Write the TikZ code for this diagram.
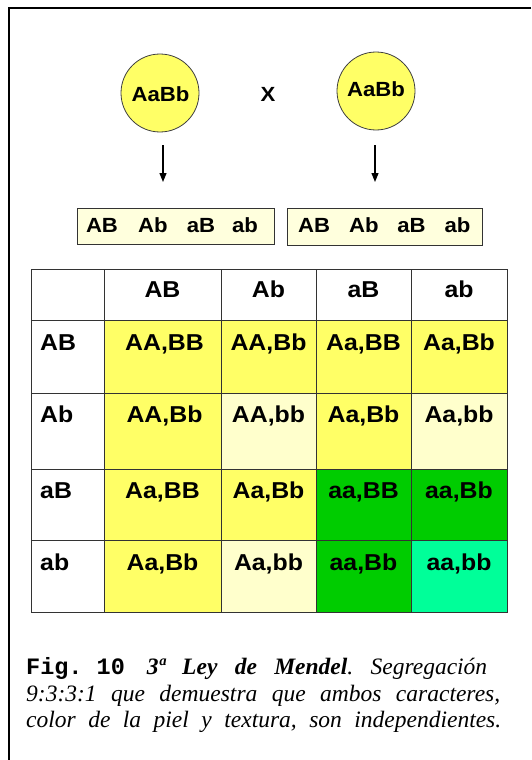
\documentclass[tikz,border=0pt]{standalone}
\usepackage{fontspec}
\setmainfont{Liberation Serif}
\newfontfamily\arb[FakeStretch=1.08]{Liberation Sans}
\newfontfamily\cour{Liberation Mono}
\usetikzlibrary{arrows.meta}
\definecolor{cyel}{HTML}{FFFF66}
\definecolor{clight}{HTML}{FFFFCC}
\definecolor{cgreen}{HTML}{00CC00}
\definecolor{caqua}{HTML}{00FF99}
\definecolor{cbox}{HTML}{FFFFDD}
\frenchspacing
\tikzset{
  parent/.style={circle, draw=black!75, line width=0.8pt, fill=cyel, minimum size=78pt, inner sep=0pt},
  gbox/.style={rectangle, draw=black!80, line width=0.9pt, fill=cbox, anchor=north west, inner sep=0pt},
  cellbox/.style={rectangle, draw=black!80, line width=0.8pt, anchor=north west, inner sep=0pt},
  ptxt/.style={anchor=base, inner sep=0pt, font=\arb\bfseries\fontsize{20.5}{24}\selectfont},
  gtxt/.style={anchor=base, inner sep=0pt, font=\arb\bfseries\fontsize{20.5}{24}\selectfont},
  ttxt/.style={anchor=base, inner sep=0pt, font=\arb\bfseries\fontsize{23}{27}\selectfont},
  ltxt/.style={anchor=base west, inner sep=0pt, font=\arb\bfseries\fontsize{23}{27}\selectfont},
  captxt/.style={anchor=base west, inner sep=0pt, font=\fontsize{23.5}{28}\selectfont},
  arr/.style={line width=1.2pt, -{Triangle[length=9pt,width=7pt]}}
}
\newcommand{\cellat}[3]{% row, col, color
  \pgfmathsetmacro{\xa}{\xs[#2]}\pgfmathsetmacro{\xb}{\xs[#2+1]}%
  \pgfmathsetmacro{\ya}{\ys[#1]}\pgfmathsetmacro{\yb}{\ys[#1+1]}%
  \node[cellbox, fill=#3, minimum width=\xb-\xa, minimum height=\yb-\ya] (c#1#2) at (\xa,\ya) {};}
\begin{document}
\begin{tikzpicture}[x=1pt,y=-1pt]
\useasboundingbox (0,0) rectangle (531,760);
\fill[white] (0,0) rectangle (531,760);
\draw[line width=1.6pt] (531,8) -- (9,8) -- (9,760);

% parents
\node[parent] (p1) at (160,93) {};
\node[parent] (p2) at (376,91) {};
\node[ptxt] (p1t) at (160.5,101) {AaBb};
\node[ptxt] (p2t) at (376,96) {AaBb};
\node[ptxt] (cross) at (268,101) {X};

% arrows
\coordinate (a1s) at (163,145);
\coordinate (a1e) at (163,182);
\coordinate (a2s) at (375,145);
\coordinate (a2e) at (375,182);
\draw[arr] (a1s) -- (a1e);
\draw[arr] (a2s) -- (a2e);

% gamete boxes
\node[gbox, minimum width=197pt, minimum height=36pt] (g1) at (77,208) {};
\node[gbox, minimum width=195pt, minimum height=37pt] (g2) at (287,208) {};
\node[gtxt] (g1a) at (102,232.5) {AB};
\node[gtxt] (g1b) at (153,232.5) {Ab};
\node[gtxt] (g1c) at (201,232.5) {aB};
\node[gtxt] (g1d) at (245,232.5) {ab};
\node[gtxt] (g2a) at (314,232.5) {AB};
\node[gtxt] (g2b) at (364,232.5) {Ab};
\node[gtxt] (g2c) at (411.5,232.5) {aB};
\node[gtxt] (g2d) at (457.5,232.5) {ab};

% table cells
\def\xs{{31,104,221,316,411,507}}
\def\ys{{269,320,393,469,540,612}}
\cellat{0}{0}{white}\cellat{0}{1}{white}\cellat{0}{2}{white}\cellat{0}{3}{white}\cellat{0}{4}{white}
\cellat{1}{0}{white}\cellat{1}{1}{cyel}\cellat{1}{2}{cyel}\cellat{1}{3}{cyel}\cellat{1}{4}{cyel}
\cellat{2}{0}{white}\cellat{2}{1}{cyel}\cellat{2}{2}{clight}\cellat{2}{3}{cyel}\cellat{2}{4}{clight}
\cellat{3}{0}{white}\cellat{3}{1}{cyel}\cellat{3}{2}{cyel}\cellat{3}{3}{cgreen}\cellat{3}{4}{cgreen}
\cellat{4}{0}{white}\cellat{4}{1}{cyel}\cellat{4}{2}{clight}\cellat{4}{3}{cgreen}\cellat{4}{4}{caqua}

% header texts
\node[ttxt] (h1) at (162.5,297) {AB};
\node[ttxt] (h2) at (268.5,297) {Ab};
\node[ttxt] (h3) at (363.5,297) {aB};
\node[ttxt] (h4) at (459,297) {ab};
% row labels
\node[ltxt] (r1) at (40,350) {AB};
\node[ltxt] (r2) at (40,422) {Ab};
\node[ltxt] (r3) at (40,498) {aB};
\node[ltxt] (r4) at (40,570) {ab};
% body
\node[ttxt] (t11) at (164.5,350) {AA,BB};
\node[ttxt] (t12) at (268.5,350) {AA,Bb};
\node[ttxt] (t13) at (363.5,350) {Aa,BB};
\node[ttxt] (t14) at (459,350) {Aa,Bb};
\node[ttxt] (t21) at (164.5,422) {AA,Bb};
\node[ttxt] (t22) at (268.5,422) {AA,bb};
\node[ttxt] (t23) at (363.5,422) {Aa,Bb};
\node[ttxt] (t24) at (459,422) {Aa,bb};
\node[ttxt] (t31) at (162.5,498) {Aa,BB};
\node[ttxt] (t32) at (268.5,498) {Aa,Bb};
\node[ttxt] (t33) at (363.5,498) {aa,BB};
\node[ttxt] (t34) at (459,498) {aa,Bb};
\node[ttxt] (t41) at (162.5,570) {Aa,Bb};
\node[ttxt] (t42) at (268.5,570) {Aa,bb};
\node[ttxt] (t43) at (363.5,570) {aa,Bb};
\node[ttxt] (t44) at (459,570) {aa,bb};

% caption
\node[captxt] (cap1) at (26,674) {\makebox[461pt][s]{\mbox{\cour\bfseries Fig.\ 10}\hspace{22pt}{\bfseries\itshape 3ª Ley de Mendel}{\itshape . Segregación}}};
\node[captxt] (cap2) at (26,701) {\makebox[474pt][s]{\itshape 9:3:3:1 que demuestra que ambos caracteres,}};
\node[captxt] (cap3) at (26,727) {\makebox[475pt][s]{\itshape color de la piel y textura, son independientes.}};
\end{tikzpicture}
\end{document}
